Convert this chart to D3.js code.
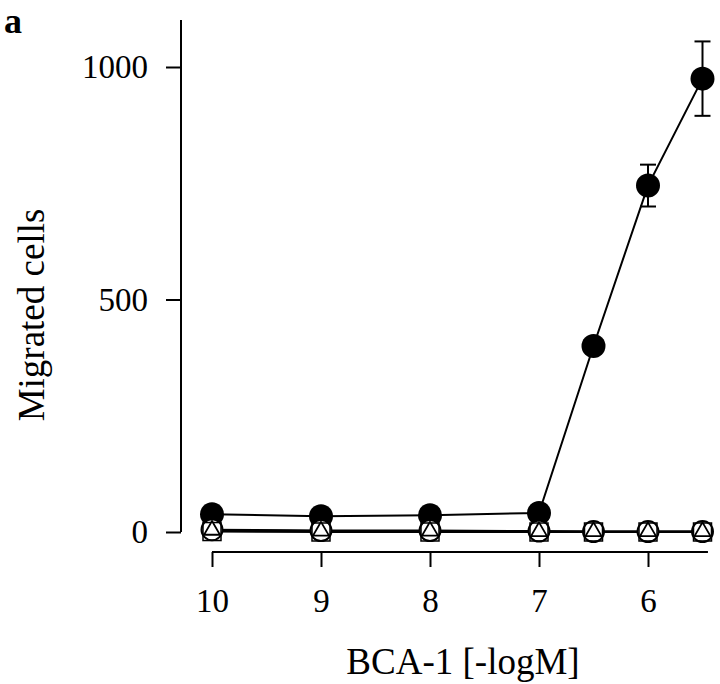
<!DOCTYPE html>
<html>
<head>
<meta charset="utf-8">
<script src="https://cdn.jsdelivr.net/npm/d3@7"></script>
<style>
  body { margin: 0; background: #fff; }
  svg { display: block; }
  text { font-family: "Liberation Serif", "Times New Roman", serif; fill: #000; }
</style>
</head>
<body>
<div id="chart"></div>
<script>
// concentrations (-logM)
var conc = [10, 9, 8, 7, 6.5, 6, 5.5];
// filled circles with error bars
var filled = [38, 34, 36, 41, 400, 745, 975];
var filledErr = [0, 0, 0, 0, 0, 45, 80];
// open symbols (all near zero)
var openCircle = [5, 3, 3, 2, 1, 1, 1];
var openTriangle = [4, 2, 2, 1, 1, 1, 1];
var openSquare = [1, 0, 0, 0, 0, 0, 0];
var yTicks = [0, 500, 1000];
var xTicks = [10, 9, 8, 7, 6];

var width = 720, height = 684;

var svg = d3.select("#chart").append("svg")
  .attr("width", width)
  .attr("height", height);

var x = d3.scaleLinear().domain([10, 6]).range([212, 648]);
var y = d3.scaleLinear().domain([0, 1000]).range([532, 67]);

// y axis
var yAxisX = 181;
var yAxis = d3.axisLeft(y).tickValues(yTicks).tickFormat(d3.format("d"))
  .tickSize(15).tickPadding(18);
var gy = svg.append("g")
  .attr("transform", "translate(" + yAxisX + ",0)")
  .call(yAxis);
gy.select(".domain").remove();
gy.append("line")
  .attr("x1", 0).attr("x2", 0)
  .attr("y1", 20).attr("y2", y(0))
  .attr("stroke", "#000").attr("stroke-width", 2);
gy.selectAll(".tick line").attr("stroke", "#000").attr("stroke-width", 2);
gy.selectAll(".tick text")
  .style("font-family", "'Liberation Serif', serif")
  .style("font-size", "33px")
  .attr("fill", "#000");

// x axis (offset below the plot)
var xAxisY = 552;
var xAxis = d3.axisBottom(x).tickValues(xTicks).tickFormat(d3.format("d"))
  .tickSize(15).tickPadding(22);
var gx = svg.append("g")
  .attr("transform", "translate(0," + xAxisY + ")")
  .call(xAxis);
gx.select(".domain").remove();
gx.append("line")
  .attr("x1", x(10)).attr("x2", x(5.45))
  .attr("y1", 0).attr("y2", 0)
  .attr("stroke", "#000").attr("stroke-width", 2);
gx.selectAll(".tick line").attr("stroke", "#000").attr("stroke-width", 2);
gx.selectAll(".tick text")
  .style("font-family", "'Liberation Serif', serif")
  .style("font-size", "33px")
  .attr("fill", "#000");

// axis titles
svg.append("text")
  .attr("x", 463).attr("y", 674)
  .attr("text-anchor", "middle")
  .style("font-size", "37px")
  .text("BCA-1 [-logM]");

svg.append("text")
  .attr("transform", "translate(44,315) rotate(-90)")
  .attr("text-anchor", "middle")
  .style("font-size", "37px")
  .text("Migrated cells");

// panel letter
svg.append("text")
  .attr("x", 4).attr("y", 33)
  .style("font-size", "36px")
  .style("font-weight", "bold")
  .text("a");

var line = d3.line()
  .x(function (d) { return x(d[0]); })
  .y(function (d) { return y(d[1]); });

function pairs(vals) {
  return conc.map(function (c, i) { return [c, vals[i]]; });
}

// lines
[openSquare, openTriangle, openCircle, filled].forEach(function (vals) {
  svg.append("path")
    .datum(pairs(vals))
    .attr("d", line)
    .attr("fill", "none")
    .attr("stroke", "#000")
    .attr("stroke-width", 2);
});

// error bars
var eb = svg.append("g").attr("class", "errorbars");
conc.forEach(function (c, i) {
  if (!filledErr[i]) return;
  var cx = x(c), lo = y(filled[i] - filledErr[i]), hi = y(filled[i] + filledErr[i]);
  eb.append("line").attr("x1", cx).attr("x2", cx).attr("y1", lo).attr("y2", hi)
    .attr("stroke", "#000").attr("stroke-width", 2);
  [lo, hi].forEach(function (yy) {
    eb.append("line").attr("x1", cx - 8).attr("x2", cx + 8).attr("y1", yy).attr("y2", yy)
      .attr("stroke", "#000").attr("stroke-width", 2);
  });
});

// filled circles
svg.append("g").selectAll("circle")
  .data(pairs(filled))
  .enter().append("circle")
  .attr("cx", function (d) { return x(d[0]); })
  .attr("cy", function (d) { return y(d[1]); })
  .attr("r", 12)
  .attr("fill", "#000");

// open circles
svg.append("g").selectAll("circle")
  .data(pairs(openCircle))
  .enter().append("circle")
  .attr("cx", function (d) { return x(d[0]); })
  .attr("cy", function (d) { return y(d[1]); })
  .attr("r", 10.5)
  .attr("fill", "#fff")
  .attr("stroke", "#000")
  .attr("stroke-width", 2);

// open squares
svg.append("g").selectAll("rect")
  .data(pairs(openSquare))
  .enter().append("rect")
  .attr("x", function (d) { return x(d[0]) - 9; })
  .attr("y", function (d) { return y(d[1]) - 9; })
  .attr("width", 18).attr("height", 18)
  .attr("fill", "none")
  .attr("stroke", "#000")
  .attr("stroke-width", 1.5);

// open triangles
var tri = d3.symbol().type(d3.symbolTriangle).size(110);
svg.append("g").selectAll("path")
  .data(pairs(openTriangle))
  .enter().append("path")
  .attr("d", tri)
  .attr("transform", function (d) { return "translate(" + x(d[0]) + "," + y(d[1]) + ")"; })
  .attr("fill", "#fff")
  .attr("stroke", "#000")
  .attr("stroke-width", 1.8);
</script>
</body>
</html>
